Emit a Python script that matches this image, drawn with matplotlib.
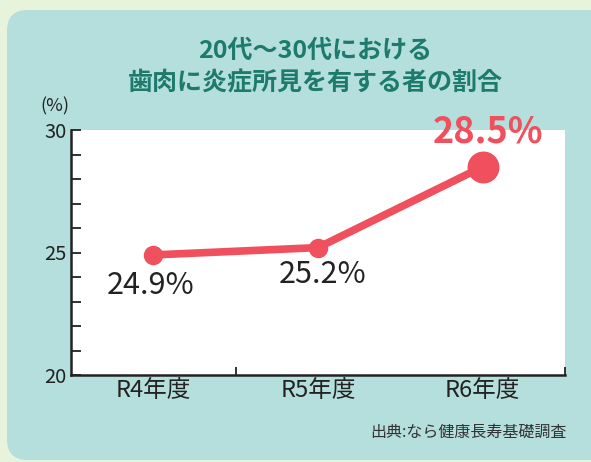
import matplotlib
matplotlib.use("Agg")
import matplotlib.pyplot as plt
from matplotlib.patches import FancyBboxPatch
from matplotlib.ticker import MultipleLocator, FixedLocator

plt.rcParams['font.family'] = ['Noto Sans CJK JP', 'DejaVu Sans']

categories = ["R4年度", "R5年度", "R6年度"]
values = [24.9, 25.2, 28.5]
value_labels = ["24.9%", "25.2%", "28.5%"]
title = "20代～30代における\n歯肉に炎症所見を有する者の割合"
source = "出典:なら健康長寿基礎調査"

W, H = 591, 462
fig = plt.figure(figsize=(W / 100, H / 100), dpi=100)
fig.patch.set_facecolor("#E7F3DB")

box = FancyBboxPatch((7 / W, 2 / H), 620 / W, (452 - 2) / H,
                     boxstyle="round,pad=0,rounding_size=0.035",
                     transform=fig.transFigure, facecolor="#B4DFDD",
                     edgecolor="none", mutation_aspect=W / H, zorder=-10)
fig.patches.append(box)

ax = fig.add_axes([71 / W, 1 - 375 / H, (565 - 71) / W, (375 - 130) / H])
ax.set_zorder(2)
ax.set_facecolor("white")
x = list(range(len(categories)))
red = "#F0505E"
ax.plot(x, values, color=red, lw=5.5, solid_capstyle="round", zorder=3)
ax.plot(x[:2], values[:2], 'o', color=red, ms=13, zorder=4)
ax.plot(x[2:], values[2:], 'o', color=red, ms=22, zorder=4)

ax.set_xlim(-0.5, 2.5)
ax.set_ylim(20, 30)
ax.yaxis.set_major_locator(FixedLocator([20, 25, 30]))
ax.yaxis.set_minor_locator(MultipleLocator(1))
ax.set_xticks(x)
ax.set_xticklabels(categories, fontsize=17, color="#222222")
ax.tick_params(axis='x', length=0, pad=3)
ax.xaxis.set_minor_locator(FixedLocator([0.5, 2.5]))
ax.tick_params(axis='x', which='minor', direction='in', length=6, width=1.3, color="#222222")
ax.tick_params(axis='y', which='both', direction='in', length=7, width=1.3,
               color="#222222", labelsize=14.5, labelcolor="#222222", pad=3)

for s in ["top", "right"]:
    ax.spines[s].set_visible(False)
for s in ["left", "bottom"]:
    ax.spines[s].set_linewidth(1.8)
    ax.spines[s].set_color("#222222")

# value labels
ax.annotate(value_labels[0], (x[0], values[0]), xytext=(-3, -31), textcoords="offset pixels",
            ha="center", va="center", fontsize=22, color="#222222")
ax.annotate(value_labels[1], (x[1], values[1]), xytext=(5, -27), textcoords="offset pixels",
            ha="center", va="center", fontsize=22, color="#222222")
ax.annotate(value_labels[2], (x[2], values[2]), xytext=(5, 35), textcoords="offset pixels",
            ha="center", va="center", fontsize=26, color=red, fontweight="bold",
            annotation_clip=False)

fig.text(315 / W, 1 - 67 / H, title, ha="center", va="center", fontsize=18,
         color="#1E7A6D", fontweight="bold", linespacing=1.42)
fig.text(55 / W, 1 - 106 / H, "(%)", ha="center", va="center", fontsize=13, color="#222222")
fig.text(567 / W, 1 - 432 / H, source, ha="right", va="center", fontsize=11.5, color="#333333")

fig.savefig("out.png", dpi=100, facecolor=fig.get_facecolor())
